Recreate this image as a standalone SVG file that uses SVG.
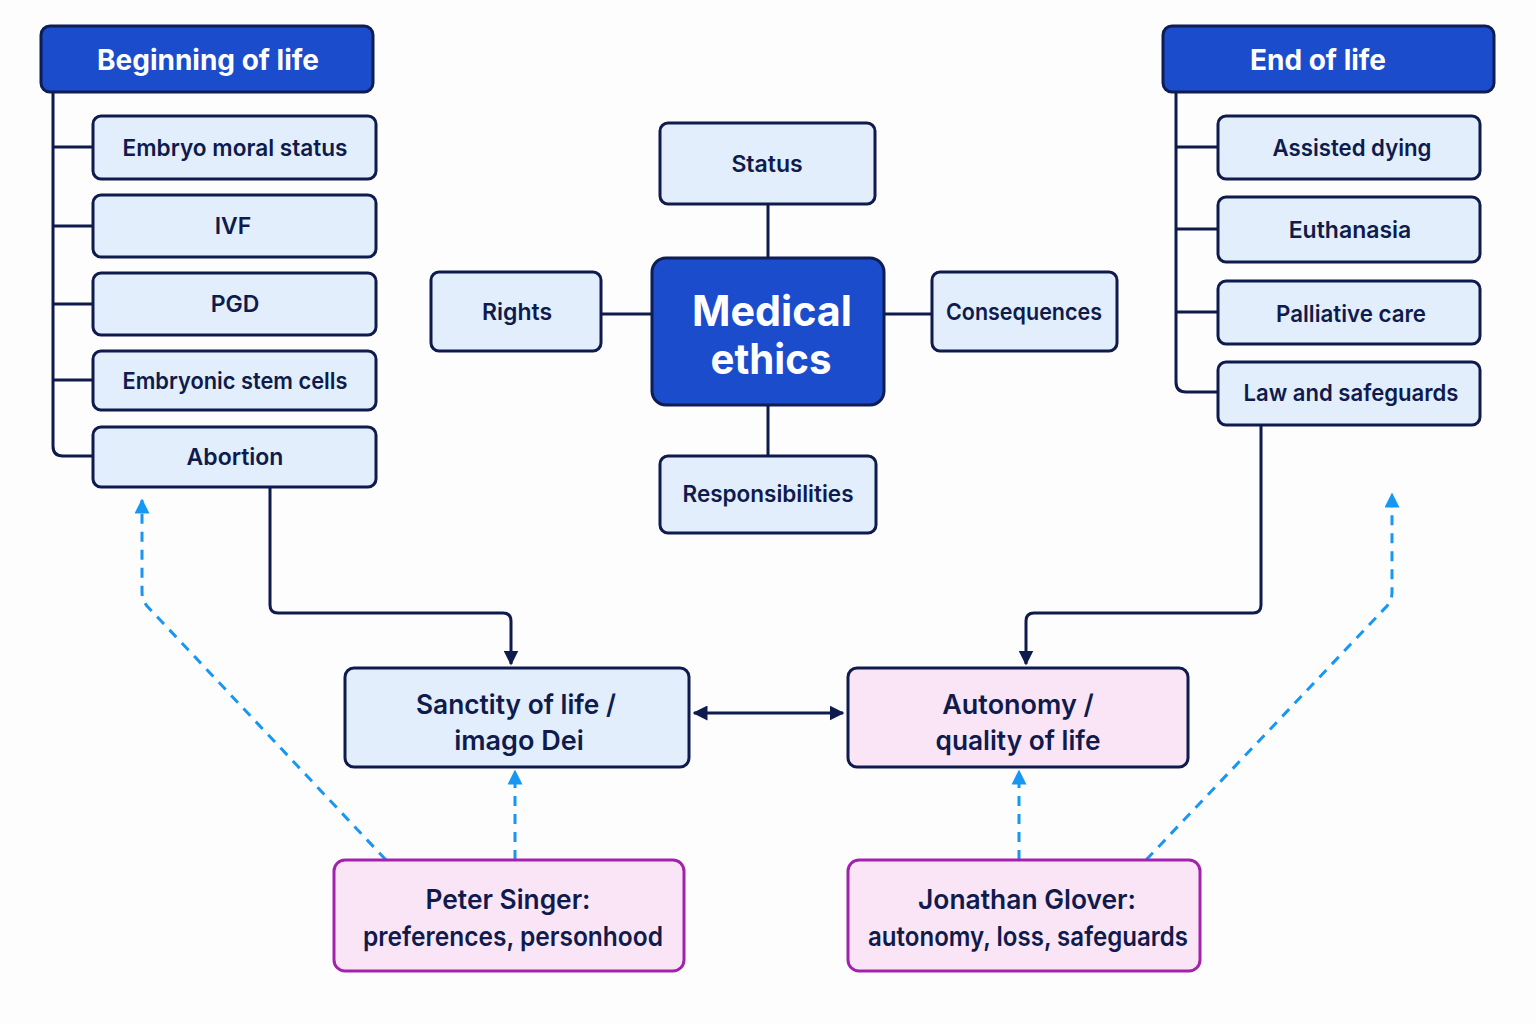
<svg xmlns="http://www.w3.org/2000/svg" width="1536" height="1024" viewBox="0 0 1536 1024">
<defs>
<style>
.hdr{fill:#1a4ccc;stroke:#0f1d55;stroke-width:3}
.box{fill:#e2eefc;stroke:#0f1b4d;stroke-width:3}
.pink{fill:#fae5f7;stroke:#0f1b4d;stroke-width:3}
.auth{fill:#fae5f7;stroke:#a322ad;stroke-width:3}
.t{font-family:Inter,"Noto Sans","Liberation Sans",sans-serif;font-weight:600;fill:#0f1b4d;text-anchor:middle;dominant-baseline:central}
.w{fill:#ffffff;font-weight:700}
.ln{fill:none;stroke:#0f1b4d;stroke-width:3;stroke-linejoin:round}
.dash{fill:none;stroke:#1897f2;stroke-width:3;stroke-dasharray:10 8}
</style>
<marker id="ah" viewBox="0 0 10 10" refX="9" refY="5" markerWidth="5" markerHeight="5" orient="auto-start-reverse" markerUnits="strokeWidth">
<path d="M0,0 L10,5 L0,10 z" fill="#0f1b4d"/>
</marker>
<marker id="bh" viewBox="0 0 10 10" refX="9" refY="5" markerWidth="5" markerHeight="5" orient="auto" markerUnits="strokeWidth">
<path d="M0,0 L10,5 L0,10 z" fill="#1897f2"/>
</marker>
</defs>
<rect width="1536" height="1024" fill="#fdfdfe"/>

<g id="connectors">
<path class="ln" d="M53,92 V446 Q53,456 63,456 H93"/>
<path class="ln" d="M53,147 H93 M53,226 H93 M53,304 H93 M53,380 H93"/>
<path class="ln" d="M1176,92 V382 Q1176,392 1186,392 H1218"/>
<path class="ln" d="M1176,147 H1218 M1176,229 H1218 M1176,312 H1218"/>
<path class="ln" d="M768,204 V258 M768,405 V456 M601,314 H652 M884,314 H932"/>
<path class="ln" d="M270,487 V605 Q270,613 278,613 H503 Q511,613 511,621 V664" marker-end="url(#ah)"/>
<path class="ln" d="M1261,425 V605 Q1261,613 1253,613 H1034 Q1026,613 1026,621 V664" marker-end="url(#ah)"/>
<path class="ln" d="M694,713 H843" marker-start="url(#ah)" marker-end="url(#ah)"/>
<path class="dash" d="M386,860 L147,606 Q142,600 142,592 V500" marker-end="url(#bh)"/>
<path class="dash" d="M515,860 V771" marker-end="url(#bh)"/>
<path class="dash" d="M1019,860 V771" marker-end="url(#bh)"/>
<path class="dash" d="M1146,860 L1387,606 Q1392,600 1392,592 V494" marker-end="url(#bh)"/>
</g>

<g id="beginning-of-life"><rect class="hdr" x="41" y="26" width="332" height="66" rx="9"/><text class="t w" x="208" y="60" font-size="28" textLength="222" lengthAdjust="spacingAndGlyphs">Beginning of life</text></g>
<g id="embryo-moral-status"><rect class="box" x="93" y="116" width="283" height="63" rx="8"/><text class="t" x="235" y="148" font-size="23" textLength="225" lengthAdjust="spacingAndGlyphs">Embryo moral status</text></g>
<g id="ivf"><rect class="box" x="93" y="195" width="283" height="62" rx="8"/><text class="t" x="233" y="226" font-size="23">IVF</text></g>
<g id="pgd"><rect class="box" x="93" y="273" width="283" height="62" rx="8"/><text class="t" x="235" y="304" font-size="23">PGD</text></g>
<g id="embryonic-stem-cells"><rect class="box" x="93" y="351" width="283" height="59" rx="8"/><text class="t" x="235" y="381" font-size="23" textLength="225" lengthAdjust="spacingAndGlyphs">Embryonic stem cells</text></g>
<g id="abortion"><rect class="box" x="93" y="427" width="283" height="60" rx="8"/><text class="t" x="235" y="457" font-size="23">Abortion</text></g>

<g id="end-of-life"><rect class="hdr" x="1163" y="26" width="331" height="66" rx="9"/><text class="t w" x="1318" y="60" font-size="28">End of life</text></g>
<g id="assisted-dying"><rect class="box" x="1218" y="116" width="262" height="63" rx="8"/><text class="t" x="1352" y="148" font-size="23" textLength="159" lengthAdjust="spacingAndGlyphs">Assisted dying</text></g>
<g id="euthanasia"><rect class="box" x="1218" y="197" width="262" height="65" rx="8"/><text class="t" x="1350" y="230" font-size="23">Euthanasia</text></g>
<g id="palliative-care"><rect class="box" x="1218" y="281" width="262" height="63" rx="8"/><text class="t" x="1351" y="314" font-size="23" textLength="150" lengthAdjust="spacingAndGlyphs">Palliative care</text></g>
<g id="law-and-safeguards"><rect class="box" x="1218" y="362" width="262" height="63" rx="8"/><text class="t" x="1351" y="393" font-size="23" textLength="215" lengthAdjust="spacingAndGlyphs">Law and safeguards</text></g>

<g id="medical-ethics"><rect class="hdr" x="652" y="258" width="232" height="147" rx="14"/><text class="t w" x="772" y="310" font-size="42" textLength="160" lengthAdjust="spacingAndGlyphs">Medical</text><text class="t w" x="771" y="358" font-size="42" textLength="121" lengthAdjust="spacingAndGlyphs">ethics</text></g>
<g id="status"><rect class="box" x="660" y="123" width="215" height="81" rx="8"/><text class="t" x="767" y="164" font-size="23">Status</text></g>
<g id="rights"><rect class="box" x="431" y="272" width="170" height="79" rx="8"/><text class="t" x="517" y="312" font-size="23">Rights</text></g>
<g id="consequences"><rect class="box" x="932" y="272" width="185" height="79" rx="8"/><text class="t" x="1024" y="312" font-size="23" textLength="156" lengthAdjust="spacingAndGlyphs">Consequences</text></g>
<g id="responsibilities"><rect class="box" x="660" y="456" width="216" height="77" rx="8"/><text class="t" x="768" y="494" font-size="23" textLength="171" lengthAdjust="spacingAndGlyphs">Responsibilities</text></g>

<g id="sanctity-of-life"><rect class="box" x="345" y="668" width="344" height="99" rx="9"/><text class="t" x="516" y="704" font-size="27" textLength="200" lengthAdjust="spacingAndGlyphs">Sanctity of life /</text><text class="t" x="519" y="740" font-size="27">imago Dei</text></g>
<g id="autonomy"><rect class="pink" x="848" y="668" width="340" height="99" rx="9"/><text class="t" x="1018" y="704" font-size="27">Autonomy /</text><text class="t" x="1018" y="740" font-size="27" textLength="165" lengthAdjust="spacingAndGlyphs">quality of life</text></g>

<g id="peter-singer"><rect class="auth" x="334" y="860" width="350" height="111" rx="11"/><text class="t" x="508" y="899" font-size="27" textLength="165" lengthAdjust="spacingAndGlyphs">Peter Singer:</text><text class="t" x="513" y="936" font-size="27" textLength="300" lengthAdjust="spacingAndGlyphs">preferences, personhood</text></g>
<g id="jonathan-glover"><rect class="auth" x="848" y="860" width="352" height="111" rx="11"/><text class="t" x="1027" y="899" font-size="27" textLength="218" lengthAdjust="spacingAndGlyphs">Jonathan Glover:</text><text class="t" x="1028" y="936" font-size="27" textLength="320" lengthAdjust="spacingAndGlyphs">autonomy, loss, safeguards</text></g>
</svg>
